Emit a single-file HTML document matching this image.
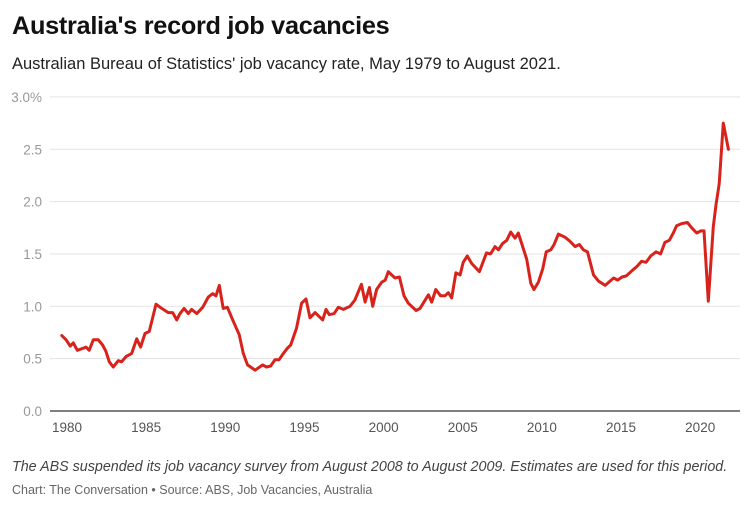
<!DOCTYPE html>
<html><head><meta charset="utf-8"><style>
body{margin:0;background:#fff;font-family:"Liberation Sans",sans-serif;}
#wrap{position:relative;width:754px;height:511px;overflow:hidden}
h1{position:absolute;left:12px;top:12px;margin:0;font-size:25.3px;font-weight:bold;color:#111;letter-spacing:-0.3px}
.sub{position:absolute;left:12px;top:55px;font-size:16.5px;color:#222}
.note{position:absolute;left:12px;top:459px;font-size:14.3px;font-style:italic;color:#444}
.src{position:absolute;left:12px;top:483px;font-size:12.5px;color:#666}
</style></head><body>
<div id="wrap">
<h1>Australia's record job vacancies</h1>
<div class="sub">Australian Bureau of Statistics' job vacancy rate, May 1979 to August 2021.</div>
<svg id="chart" width="754" height="511" style="position:absolute;left:0;top:0"></svg>
<div class="note">The ABS suspended its job vacancy survey from August 2008 to August 2009. Estimates are used for this period.</div>
<div class="src">Chart: The Conversation • Source: ABS, Job Vacancies, Australia</div>
</div>
<script>
const years=[1979.67,1979.94,1980.2,1980.4,1980.65,1981.03,1981.2,1981.4,1981.66,1981.98,1982.25,1982.46,1982.67,1982.92,1983.24,1983.45,1983.73,1984.09,1984.4,1984.65,1984.93,1985.2,1985.62,1985.98,1986.4,1986.68,1986.93,1987.14,1987.4,1987.66,1987.87,1988.2,1988.57,1988.93,1989.2,1989.41,1989.62,1989.87,1990.13,1990.47,1990.88,1991.14,1991.4,1991.88,1992.36,1992.6,1992.87,1993.14,1993.4,1993.67,1993.92,1994.13,1994.5,1994.82,1995.1,1995.35,1995.67,1996.15,1996.36,1996.57,1996.87,1997.14,1997.46,1997.88,1998.19,1998.6,1998.83,1999.1,1999.31,1999.56,1999.88,2000.1,2000.3,2000.72,2001.0,2001.29,2001.56,2002.05,2002.3,2002.83,2003.04,2003.3,2003.6,2003.88,2004.09,2004.3,2004.57,2004.83,2005.03,2005.29,2005.56,2006.05,2006.5,2006.76,2007.04,2007.25,2007.52,2007.78,2008.03,2008.3,2008.51,2009.04,2009.3,2009.5,2009.78,2010.06,2010.27,2010.56,2010.77,2011.04,2011.46,2011.78,2012.1,2012.37,2012.62,2012.88,2013.26,2013.58,2014.0,2014.53,2014.78,2015.06,2015.33,2015.69,2016.0,2016.3,2016.58,2016.87,2017.2,2017.5,2017.77,2018.05,2018.3,2018.51,2018.83,2019.19,2019.46,2019.78,2020.03,2020.24,2020.51,2020.83,2021.0,2021.2,2021.46,2021.78];
const rates=[0.72,0.68,0.62,0.65,0.58,0.60,0.61,0.58,0.68,0.68,0.63,0.57,0.47,0.42,0.48,0.47,0.52,0.55,0.69,0.61,0.74,0.76,1.02,0.98,0.94,0.94,0.87,0.93,0.98,0.93,0.97,0.93,0.99,1.09,1.12,1.10,1.20,0.98,0.99,0.87,0.73,0.55,0.44,0.39,0.44,0.42,0.43,0.49,0.49,0.55,0.60,0.63,0.79,1.03,1.07,0.89,0.94,0.87,0.97,0.92,0.93,0.99,0.97,1.00,1.06,1.21,1.04,1.18,1.00,1.16,1.23,1.25,1.33,1.27,1.28,1.10,1.03,0.96,0.98,1.11,1.04,1.16,1.10,1.10,1.13,1.08,1.32,1.30,1.42,1.48,1.41,1.33,1.51,1.50,1.57,1.54,1.60,1.63,1.71,1.65,1.70,1.45,1.22,1.16,1.23,1.36,1.52,1.54,1.59,1.69,1.66,1.62,1.57,1.59,1.54,1.52,1.30,1.24,1.20,1.27,1.25,1.28,1.29,1.34,1.38,1.43,1.42,1.48,1.52,1.50,1.61,1.63,1.70,1.77,1.79,1.80,1.75,1.70,1.72,1.72,1.05,1.76,1.97,2.17,2.75,2.50];
const yTicks=[0,0.5,1,1.5,2,2.5,3];
const yTickLabels=["0.0","0.5","1.0","1.5","2.0","2.5","3.0%"];
const xTicks=[1980,1985,1990,1995,2000,2005,2010,2015,2020];
const NS="http://www.w3.org/2000/svg";
const svg=document.getElementById('chart');
const xs=v=>67+(v-1980)*15.83;
const ys=v=>411-v*104.7;
function mk(t,a){const e=document.createElementNS(NS,t);for(const k in a)e.setAttribute(k,a[k]);svg.appendChild(e);return e;}
yTicks.forEach((t,i)=>{
  if(t>0){const g=mk('line',{x1:50,x2:740,y1:ys(t),y2:ys(t),stroke:'#e3e3e3','stroke-width':1});
  
  }
  const l=mk('text',{x:42,y:ys(t)+5,'text-anchor':'end','font-size':13.5,fill:'#999','font-family':'Liberation Sans, sans-serif'});
  l.textContent=yTickLabels[i];
  
  
});
const ax=mk('line',{x1:50,x2:740,y1:411,y2:411,stroke:'#333','stroke-width':1.3});


xTicks.forEach(t=>{
  const l=mk('text',{x:xs(t),y:432,'text-anchor':'middle','font-size':13.5,fill:'#555','font-family':'Liberation Sans, sans-serif'});
  l.textContent=t;
  
  
});
const d=years.map((y,i)=>(i?'L':'M')+xs(y).toFixed(1)+','+ys(rates[i]).toFixed(1)).join('');
const p=mk('path',{d:d,fill:'none',stroke:'#d8231c','stroke-width':3,'stroke-linejoin':'round','stroke-linecap':'round'});


</script>
</body></html>
